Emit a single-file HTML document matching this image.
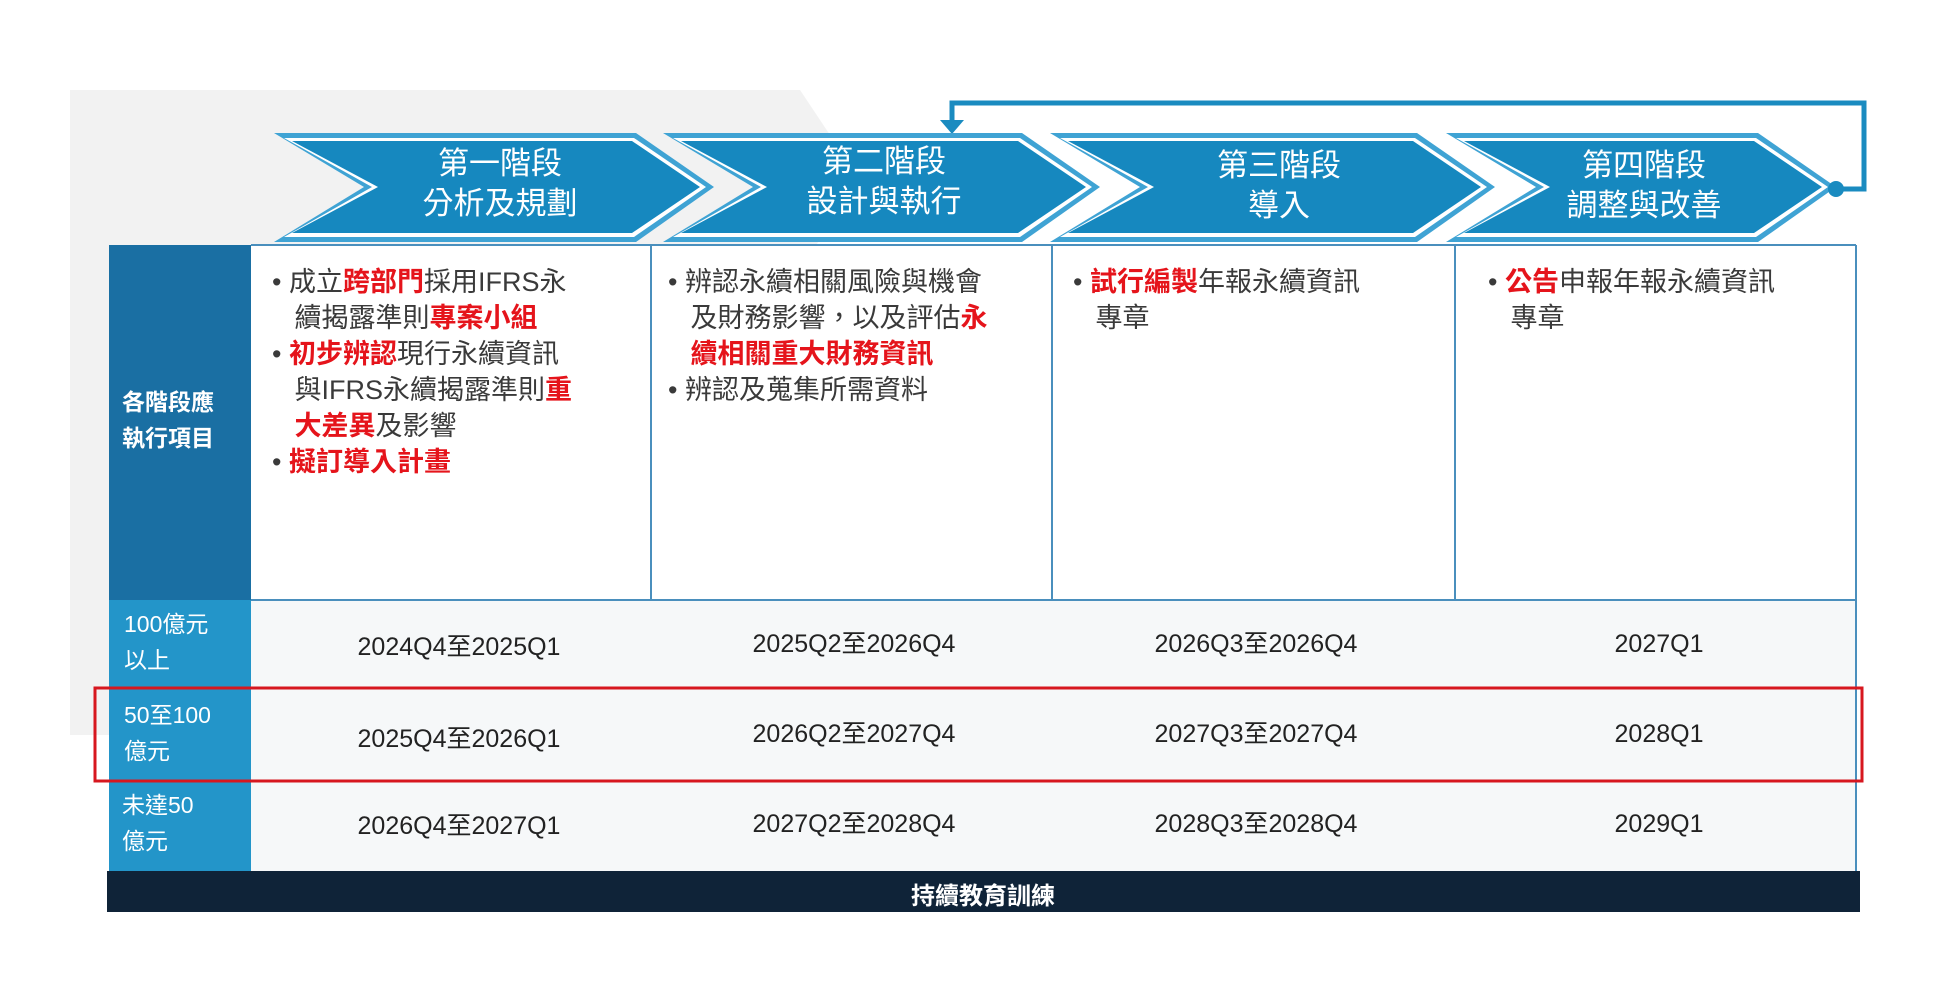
<!DOCTYPE html>
<html><head><meta charset="utf-8">
<style>
body{margin:0;width:1938px;height:990px;background:#fff;position:relative;overflow:hidden;font-family:"Liberation Sans","Noto Sans CJK TC",sans-serif;}
.a{position:absolute;white-space:nowrap;}
.t{font-size:27px;color:#3a3a3a;line-height:36px;}
.r{color:#e5141b;font-weight:bold;}
.h{color:#fff;font-size:31px;text-align:center;width:300px;line-height:40px;}
.d{font-size:25px;color:#222;text-align:center;width:380px;line-height:30px;height:30px;}
.l{color:#fff;font-size:23px;line-height:36px;}
</style></head><body>
<svg class="a" style="left:0;top:0" width="1938" height="990">
<polygon points="70,90 800,90 860,180 638,510 580,735 70,735" fill="#f2f2f2"/>
<rect x="251" y="245" width="1605" height="355" fill="#fff"/>
<rect x="251" y="600" width="1605" height="271" fill="#f6f8f9"/>
<g stroke="#4a8fbd" stroke-width="2" fill="none">
<line x1="251" y1="245" x2="1856" y2="245"/>
<line x1="651" y1="245" x2="651" y2="600"/><line x1="1052" y1="245" x2="1052" y2="600"/><line x1="1455" y1="245" x2="1455" y2="600"/><line x1="1856" y1="245" x2="1856" y2="871"/>
<line x1="251" y1="600" x2="1856" y2="600"/>
</g>
<g stroke="#d5e3ea" stroke-width="2"><line x1="251" y1="781" x2="1856" y2="781"/></g>
<rect x="109" y="245" width="142" height="355" fill="#1a6fa3"/>
<rect x="109" y="600" width="142" height="271" fill="#2395c9"/>
<rect x="107" y="871" width="1753" height="41" fill="#0f2338"/>
<rect x="95" y="688" width="1767" height="93" fill="none" stroke="#d7171f" stroke-width="3"/>
<polyline points="952,125 952,103 1864,103 1864,189 1836,189" fill="none" stroke="#1a8bc0" stroke-width="5"/>
<polygon points="940,120 964,120 952,134" fill="#1a8bc0"/>
<g>
<polygon points="274,133 636,133 714,187 636,242 274,242 364,187" fill="#3fa3d4"/>
<polygon points="284,138 634,138 706,187 634,237 284,237 372,187" fill="#fff"/>
<polygon points="292,141 632,141 700,187 632,233 292,233 378,187" fill="#1688bf"/>
<polygon points="663,133 1022,133 1100,187 1022,242 663,242 753,187" fill="#3fa3d4"/>
<polygon points="673,138 1020,138 1092,187 1020,237 673,237 761,187" fill="#fff"/>
<polygon points="681,141 1018,141 1086,187 1018,233 681,233 767,187" fill="#1688bf"/>
<polygon points="1050,133 1417,133 1495,187 1417,242 1050,242 1140,187" fill="#3fa3d4"/>
<polygon points="1060,138 1415,138 1487,187 1415,237 1060,237 1148,187" fill="#fff"/>
<polygon points="1068,141 1413,141 1481,187 1413,233 1068,233 1154,187" fill="#1688bf"/>
<polygon points="1446,133 1758,133 1836,187 1758,242 1446,242 1536,187" fill="#3fa3d4"/>
<polygon points="1456,138 1756,138 1828,187 1756,237 1456,237 1544,187" fill="#fff"/>
<polygon points="1464,141 1754,141 1822,187 1754,233 1464,233 1550,187" fill="#1688bf"/>
</g>
<circle cx="1836" cy="189" r="8" fill="#1a8bc0"/>
</svg>
<div class="a h" style="left:350px;top:144px">第一階段<br>分析及規劃</div>
<div class="a h" style="left:734px;top:142px">第二階段<br>設計與執行</div>
<div class="a h" style="left:1129px;top:146px">第三階段<br>導入</div>
<div class="a h" style="left:1494px;top:146px">第四階段<br>調整與改善</div>
<div class="a l" style="left:122px;top:384px;font-weight:bold">各階段應<br>執行項目</div>
<div class="a l" style="left:124px;top:606px">100億元<br>以上</div>
<div class="a l" style="left:124px;top:697px">50至100<br>億元</div>
<div class="a l" style="left:122px;top:787px">未達50<br>億元</div>
<div class="a t" style="left:272px;top:264px">•&nbsp;成立<span class="r">跨部門</span>採用IFRS永<br>&nbsp;&nbsp;&nbsp;續揭露準則<span class="r">專案小組</span><br>•&nbsp;<span class="r">初步辨認</span>現行永續資訊<br>&nbsp;&nbsp;&nbsp;與IFRS永續揭露準則<span class="r">重</span><br>&nbsp;&nbsp;&nbsp;<span class="r">大差異</span>及影響<br>•&nbsp;<span class="r">擬訂導入計畫</span></div>
<div class="a t" style="left:668px;top:264px">•&nbsp;辨認永續相關風險與機會<br>&nbsp;&nbsp;&nbsp;及財務影響，以及評估<span class="r">永</span><br>&nbsp;&nbsp;&nbsp;<span class="r">續相關重大財務資訊</span><br>•&nbsp;辨認及蒐集所需資料</div>
<div class="a t" style="left:1073px;top:264px">•&nbsp;<span class="r">試行編製</span>年報永續資訊<br>&nbsp;&nbsp;&nbsp;專章</div>
<div class="a t" style="left:1488px;top:264px">•&nbsp;<span class="r">公告</span>申報年報永續資訊<br>&nbsp;&nbsp;&nbsp;專章</div>
<div class="a d" style="left:269px;top:632px">2024Q4至2025Q1</div>
<div class="a d" style="left:664px;top:629px">2025Q2至2026Q4</div>
<div class="a d" style="left:1066px;top:629px">2026Q3至2026Q4</div>
<div class="a d" style="left:1469px;top:629px">2027Q1</div>
<div class="a d" style="left:269px;top:724px">2025Q4至2026Q1</div>
<div class="a d" style="left:664px;top:719px">2026Q2至2027Q4</div>
<div class="a d" style="left:1066px;top:719px">2027Q3至2027Q4</div>
<div class="a d" style="left:1469px;top:719px">2028Q1</div>
<div class="a d" style="left:269px;top:811px">2026Q4至2027Q1</div>
<div class="a d" style="left:664px;top:809px">2027Q2至2028Q4</div>
<div class="a d" style="left:1066px;top:809px">2028Q3至2028Q4</div>
<div class="a d" style="left:1469px;top:809px">2029Q1</div>
<div class="a" style="left:783px;top:876px;width:400px;text-align:center;color:#fff;font-size:24px;font-weight:bold">持續教育訓練</div>
</body></html>
